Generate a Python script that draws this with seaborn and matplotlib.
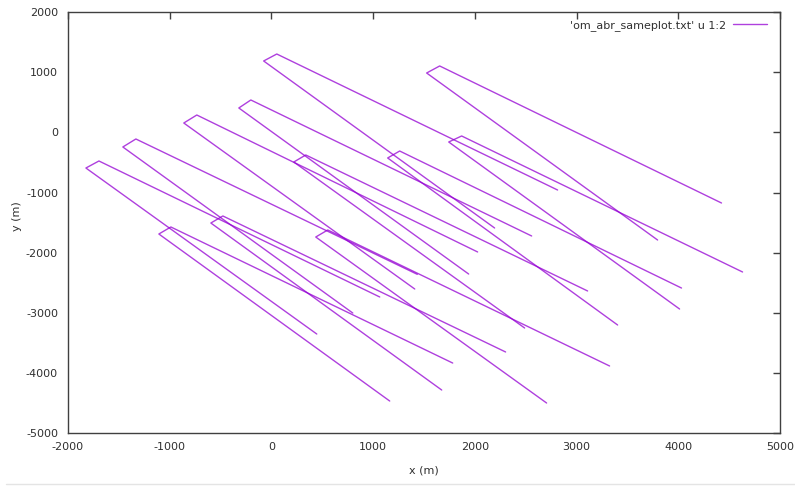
import numpy as np
import pandas as pd
import matplotlib
matplotlib.use("Agg")
import matplotlib.pyplot as plt
from matplotlib.lines import Line2D
import seaborn as sns

# ---- data, one entry per track ----
steep_end_x   = [2195, 3797, 1940, 1410,  801,  447, 2490, 4013, 3404, 1164, 1675, 2706]
steep_end_y   = [-1589, -1789, -2355, -2604, -3004, -3353, -3253, -2937, -3203, -4468, -4285, -4501]
tip_a_x       = [-75, 1527, -319, -860, -1459, -1822, 221, 1744, 1144, -1105, -594, 437]
tip_a_y       = [1190, 990, 408, 158, -241, -591, -491, -158, -424, -1689, -1506, -1739]
tip_b_x       = [54, 1655, -201, -732, -1331, -1694, 339, 1871, 1262, -987, -476, 555]
tip_b_y       = [1306, 1107, 541, 291, -108, -474, -374, -58, -308, -1572, -1389, -1622]
shallow_end_x = [2814, 4425, 2559, 2028, 1435, 1066, 3109, 4632, 4032, 1783, 2303, 3325]
shallow_end_y = [-957, -1173, -1722, -1988, -2360, -2737, -2637, -2321, -2588, -3836, -3652, -3885]

legend_label = "'om_abr_sameplot.txt' u 1:2"
x_ticks = [-2000, -1000, 0, 1000, 2000, 3000, 4000, 5000]
y_ticks = [-5000, -4000, -3000, -2000, -1000, 0, 1000, 2000]

rows = []
for i in range(len(tip_a_x)):
    pts = [(steep_end_x[i], steep_end_y[i]), (tip_a_x[i], tip_a_y[i]),
           (tip_b_x[i], tip_b_y[i]), (shallow_end_x[i], shallow_end_y[i])]
    for k, (px, py) in enumerate(pts):
        rows.append({"track": i, "order": k, "x": px, "y": py})
df = pd.DataFrame(rows)

sns.set_theme(style="white")
plt.rcParams["font.family"] = ["DejaVu Sans"]

W, H = 795, 486
fig = plt.figure(figsize=(W / 100, H / 100), dpi=100)
left, right, top, bottom = 67.8, 780.0, 12.3, 433.0
ax = fig.add_axes([left / W, (H - bottom) / H, (right - left) / W, (bottom - top) / H])

line_color = "#9400d3"
sns.lineplot(data=df, x="x", y="y", units="track", estimator=None, sort=False,
             color=line_color, linewidth=1.0, alpha=0.75, ax=ax, legend=False)

ax.set_xlim(-2000, 5000)
ax.set_ylim(-5000, 2000)
ax.set_xticks(x_ticks)
ax.set_yticks(y_ticks)
ax.set_xticklabels([str(t) for t in x_ticks])
ax.set_yticklabels([str(t) for t in y_ticks])

tick_color = "#303030"
ax.tick_params(axis="both", which="major", direction="in", length=5, width=1,
               color="#404040", labelsize=8, labelcolor=tick_color,
               top=True, right=True, pad=6.5)
ax.tick_params(axis="y", pad=7)
for s in ax.spines.values():
    s.set_visible(True)
    s.set_color("#404040")
    s.set_linewidth(1.0)

ax.set_xlabel("x (m)", fontsize=8, color=tick_color)
ax.set_ylabel("y (m)", fontsize=8, color=tick_color)
ax.xaxis.set_label_coords(0.5, -0.078)
ax.yaxis.set_label_coords(-0.064, 0.516)

handle = Line2D([], [], color=line_color, linewidth=1.0, alpha=0.75)
leg = fig.legend(handles=[handle], labels=[legend_label], loc="center right",
                 bbox_to_anchor=(767 / W, (H - 25.7) / H), frameon=False,
                 markerfirst=False, fontsize=8, handlelength=3.1,
                 handletextpad=0.55, borderpad=0, borderaxespad=0)
for t in leg.get_texts():
    t.set_color(tick_color)

fig.add_artist(Line2D([6 / W, 1.0], [(H - 484) / H] * 2, color="#e4e4e4", linewidth=1.0))

fig.savefig("out.png", dpi=100)
